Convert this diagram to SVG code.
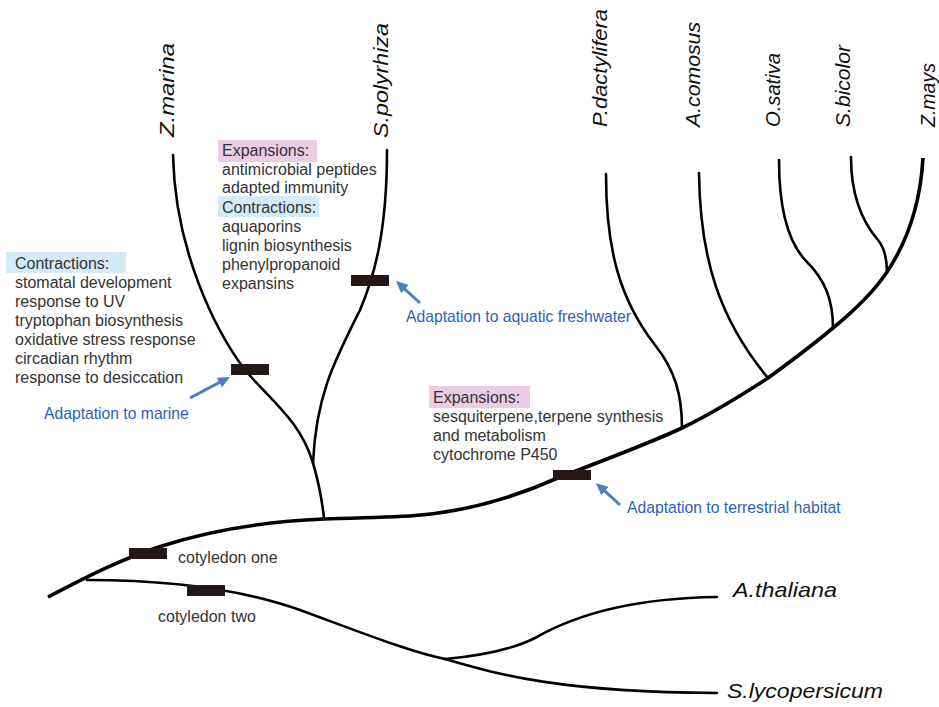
<svg xmlns="http://www.w3.org/2000/svg" width="939" height="707" viewBox="0 0 939 707">
<style>
  .br{fill:none;stroke:#000;stroke-width:2.6;stroke-linecap:round}
  .trunk{fill:none;stroke:#000;stroke-width:3.6;stroke-linecap:butt}
  .sp{font-family:"Liberation Sans",Arial,sans-serif;font-style:italic;font-size:21px;fill:#111}
  .t{font-family:"Liberation Sans",Arial,sans-serif;font-size:16px;fill:#333}
  .blue{font-family:"Liberation Sans",Arial,sans-serif;font-size:15.7px;fill:#2a62c0}
  .bar{fill:#231815}
  .arr{stroke:#4a7fc1;stroke-width:3;fill:none}
  .exp{fill:#e8cde4}
  .con{fill:#d4ebf7}
</style>
<defs>
  <marker id="ah" viewBox="0 0 12 11" refX="4" refY="5.5" markerWidth="12" markerHeight="11" markerUnits="userSpaceOnUse" orient="auto">
    <path d="M0,0 L12,5.5 L0,11 z" fill="#4a7fc1"/>
  </marker>
</defs>
<rect width="939" height="707" fill="#fff"/>

<g id="connectors">
  <path class="trunk" d="M48,597 C110,565 180,525 324,519 C360,518 390,517 410,516 C470,512 520,495 560,477 C610,458 650,443 682,428 C715,412 745,393 768,378 C790,362 815,343 833,328 C855,310 875,290 887,272 C905,245 920,210 923,158"/>
  <path class="br" d="M173,155 C175,250 215,330 245,370 C270,400 300,420 313,463 C318,480 322,500 324,518"/>
  <path class="br" d="M387,150 C387,230 375,275 360,310 C335,360 316,395 313,463"/>
  <path class="br" d="M606,174 C606,250 620,300 655,345 C675,370 682,395 682,428"/>
  <path class="br" d="M699,173 C700,260 720,320 768,378"/>
  <path class="br" d="M779,160 C779,215 790,245 807,262 C825,280 833,300 833,328"/>
  <path class="br" d="M851,157 C851,200 865,225 878,240 C886,250 887,262 887,272"/>
  <path class="br" d="M87,580 C150,580 230,585 300,610 C360,632 410,652 445,659"/>
  <path class="br" d="M445,659 C490,655 515,648 535,638 C580,612 640,598 717,597"/>
  <path class="br" d="M445,659 C500,675 560,692 717,693"/>
</g>

<g id="bars">
  <rect class="bar" x="231" y="364" width="38" height="11"/>
  <rect class="bar" x="351" y="275" width="38" height="11"/>
  <rect class="bar" x="553" y="470" width="38" height="10"/>
  <rect class="bar" x="129" y="548" width="38" height="11"/>
  <rect class="bar" x="187" y="585" width="38" height="11"/>
</g>

<g id="species">
  <text class="sp" transform="translate(174,137) rotate(-90)" textLength="94" lengthAdjust="spacingAndGlyphs">Z.marina</text>
  <text class="sp" transform="translate(388,138) rotate(-90)" textLength="115" lengthAdjust="spacingAndGlyphs">S.polyrhiza</text>
  <text class="sp" transform="translate(607,127) rotate(-90)" textLength="118" lengthAdjust="spacingAndGlyphs">P.dactylifera</text>
  <text class="sp" transform="translate(700,127) rotate(-90)" textLength="105" lengthAdjust="spacingAndGlyphs">A.comosus</text>
  <text class="sp" transform="translate(780,127) rotate(-90)" textLength="74" lengthAdjust="spacingAndGlyphs">O.sativa</text>
  <text class="sp" transform="translate(850,127) rotate(-90)" textLength="82" lengthAdjust="spacingAndGlyphs">S.bicolor</text>
  <text class="sp" transform="translate(935,127) rotate(-90)" textLength="64" lengthAdjust="spacingAndGlyphs">Z.mays</text>
  <text class="sp" x="733" y="597" textLength="104" lengthAdjust="spacingAndGlyphs">A.thaliana</text>
  <text class="sp" x="727" y="698" textLength="156" lengthAdjust="spacingAndGlyphs">S.lycopersicum</text>
</g>

<g id="marine-notes">
  <rect class="con" x="6" y="252" width="120" height="21"/>
  <text class="t" x="15" y="269">Contractions:</text>
  <text class="t" x="15" y="288">stomatal development</text>
  <text class="t" x="15" y="307">response to UV</text>
  <text class="t" x="15" y="326">tryptophan biosynthesis</text>
  <text class="t" x="15" y="345">oxidative stress response</text>
  <text class="t" x="15" y="364">circadian rhythm</text>
  <text class="t" x="15" y="383">response to desiccation</text>
</g>

<g id="freshwater-notes">
  <rect class="exp" x="218" y="140" width="99" height="22"/>
  <text class="t" x="222" y="156">Expansions:</text>
  <text class="t" x="222" y="175">antimicrobial peptides</text>
  <text class="t" x="222" y="193">adapted immunity</text>
  <rect class="con" x="218" y="196" width="101" height="21"/>
  <text class="t" x="222" y="213">Contractions:</text>
  <text class="t" x="222" y="232">aquaporins</text>
  <text class="t" x="222" y="251">lignin biosynthesis</text>
  <text class="t" x="222" y="270">phenylpropanoid</text>
  <text class="t" x="222" y="289">expansins</text>
</g>

<g id="terrestrial-notes">
  <rect class="exp" x="429" y="386" width="101" height="22"/>
  <text class="t" x="433" y="403">Expansions:</text>
  <text class="t" x="433" y="422">sesquiterpene,terpene synthesis</text>
  <text class="t" x="433" y="441">and metabolism</text>
  <text class="t" x="433" y="460">cytochrome P450</text>
</g>

<g id="cotyledons">
  <text class="t" x="178" y="563">cotyledon one</text>
  <text class="t" x="158" y="622">cotyledon two</text>
</g>

<g id="adaptations">
  <line class="arr" x1="190" y1="398" x2="222.9" y2="380.7" marker-end="url(#ah)"/>
  <text class="blue" x="44" y="419">Adaptation to marine</text>
  <line class="arr" x1="420" y1="303" x2="401.9" y2="286.4" marker-end="url(#ah)"/>
  <text class="blue" x="406" y="322">Adaptation to aquatic freshwater</text>
  <line class="arr" x1="620" y1="505" x2="601.9" y2="488.4" marker-end="url(#ah)"/>
  <text class="blue" x="627" y="513">Adaptation to terrestrial habitat</text>
</g>
</svg>
